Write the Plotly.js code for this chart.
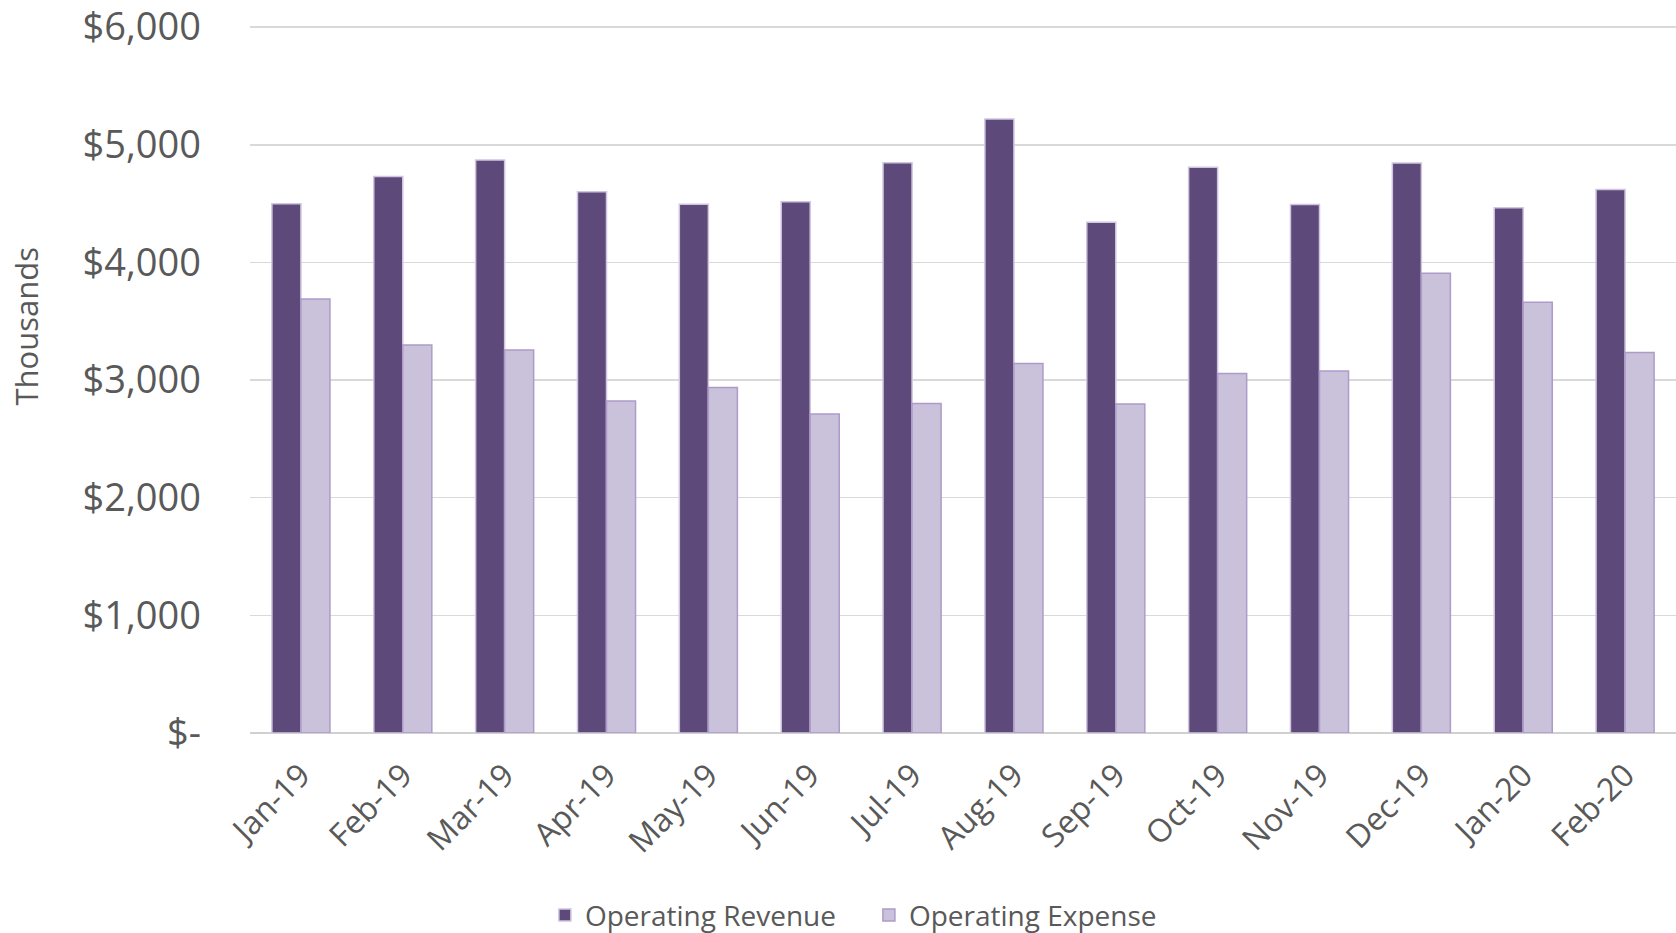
<!DOCTYPE html>
<html>
<head>
<meta charset="utf-8">
<script src="https://cdn.plot.ly/plotly-3.0.1.min.js"></script>
<style>
html,body{margin:0;padding:0;background:#fff;}
#chart{width:1676px;height:933px;}
</style>
</head>
<body>
<div id="chart"></div>
<script>
const months = ["Jan-19","Feb-19","Mar-19","Apr-19","May-19","Jun-19","Jul-19","Aug-19","Sep-19","Oct-19","Nov-19","Dec-19","Jan-20","Feb-20"];
const operatingRevenue = [4500, 4730, 4870, 4600, 4495, 4517, 4848, 5220, 4342, 4809, 4492, 4845, 4466, 4620];
const operatingExpense = [3690, 3298, 3256, 2822, 2938, 2711, 2802, 3142, 2796, 3057, 3077, 3909, 3662, 3235];
const yTickValues = [0, 1000, 2000, 3000, 4000, 5000, 6000];
const yTickLabels = ["$-", "$1,000", "$2,000", "$3,000", "$4,000", "$5,000", "$6,000"];
const yAxisTitle = "Thousands";

const FONT = "'Open Sans', 'Noto Sans', sans-serif";
const TXT = "#595959";

const data = [
  {
    type: "bar",
    name: "Operating Revenue",
    x: months,
    y: operatingRevenue,
    marker: {color: "#5E4A7A", line: {color: "#CFC5E0", width: 1.5}}
  },
  {
    type: "bar",
    name: "Operating Expense",
    x: months,
    y: operatingExpense,
    marker: {color: "#CAC1DA", line: {color: "#AE9BC9", width: 1.5}}
  }
];

const layout = {
  width: 1676,
  height: 933,
  paper_bgcolor: "#ffffff",
  plot_bgcolor: "#ffffff",
  font: {family: FONT, color: TXT},
  margin: {l: 250, r: 0, t: 25.5, b: 199.7, pad: 0, autoexpand: false},
  barmode: "group",
  bargap: 0.43,
  bargroupgap: 0,
  showlegend: true,
  legend: {
    orientation: "h",
    x: 0.2068,
    xanchor: "left",
    y: -0.258,
    yanchor: "middle",
    font: {family: FONT, size: 28, color: TXT},
    entrywidth: 279,
    traceorder: "normal"
  },
  xaxis: {
    type: "category",
    tickangle: -45,
    tickfont: {family: FONT, size: 32, color: TXT},
    ticklabelstandoff: 16,
    showgrid: false,
    showline: false,
    ticks: "",
    zeroline: false,
    automargin: false
  },
  yaxis: {
    range: [0, 6010],
    tickvals: yTickValues,
    ticktext: yTickLabels,
    tickfont: {family: FONT, size: 38, color: TXT},
    ticklabeloverflow: "allow",
    showgrid: true,
    gridcolor: "#D9D9D9",
    gridwidth: 1.5,
    zeroline: true,
    zerolinecolor: "#D0D0D0",
    zerolinewidth: 2.5,
    showline: false,
    ticks: "",
    ticklabelstandoff: 48,
    automargin: false
  },
  annotations: [
    {
      text: yAxisTitle,
      xref: "paper", yref: "paper",
      x: -0.157, y: 0.575,
      xanchor: "center", yanchor: "middle",
      textangle: -90,
      showarrow: false,
      font: {family: FONT, size: 31, color: TXT}
    }
  ]
};

Plotly.newPlot("chart", data, layout, {displayModeBar: false, staticPlot: true});
</script>
</body>
</html>
